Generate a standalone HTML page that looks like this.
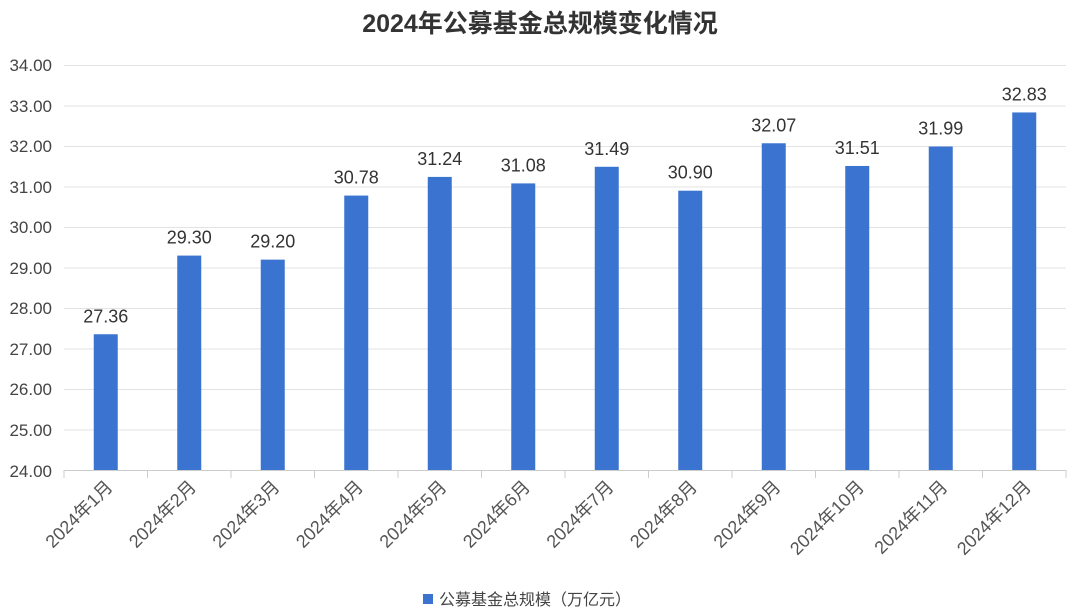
<!DOCTYPE html>
<html><head><meta charset="utf-8"><style>
body{margin:0;background:#fff;}
svg{display:block;font-family:"Liberation Sans","Noto Sans CJK SC",sans-serif;}
</style></head><body>
<svg width="1080" height="615" viewBox="0 0 1080 615">
<text x="540" y="32" text-anchor="middle" font-size="25" font-weight="bold" fill="#333">2024年公募基金总规模变化情况</text>
<g stroke="#e3e3e3" stroke-width="1">
<line x1="64" x2="1066" y1="65.5" y2="65.5"/><line x1="64" x2="1066" y1="106" y2="106"/>
<line x1="64" x2="1066" y1="146.5" y2="146.5"/><line x1="64" x2="1066" y1="187" y2="187"/>
<line x1="64" x2="1066" y1="227.5" y2="227.5"/><line x1="64" x2="1066" y1="268" y2="268"/>
<line x1="64" x2="1066" y1="308.5" y2="308.5"/><line x1="64" x2="1066" y1="349" y2="349"/>
<line x1="64" x2="1066" y1="389.5" y2="389.5"/><line x1="64" x2="1066" y1="430" y2="430"/>
</g>
<g font-size="17" fill="#444" text-anchor="end">
<text x="52" y="71">34.00</text><text x="52" y="112">33.00</text><text x="52" y="152">32.00</text>
<text x="52" y="193">31.00</text><text x="52" y="233">30.00</text><text x="52" y="274">29.00</text>
<text x="52" y="314">28.00</text><text x="52" y="355">27.00</text><text x="52" y="395">26.00</text>
<text x="52" y="436">25.00</text><text x="52" y="477">24.00</text>
</g>
<g id="bars" fill="#3a74d0"></g>
<g id="vals" font-size="18" fill="#333" text-anchor="middle"></g>
<line x1="64" x2="1066" y1="470.5" y2="470.5" stroke="#ccc"/>
<g id="ticks" stroke="#ccc"></g>
<g id="labs" font-size="18" fill="#555" text-anchor="end"></g>
<rect x="423" y="594" width="10" height="10" fill="#3a74d0"/>
<text x="439" y="605" font-size="16" fill="#444">公募基金总规模（万亿元）</text>
<script>
var v=[27.36,29.30,29.20,30.78,31.24,31.08,31.49,30.90,32.07,31.51,31.99,32.83];
var ns="http://www.w3.org/2000/svg",s=83.5,y0=470.5,k=40.55;
function el(t,a,p,txt){var e=document.createElementNS(ns,t);for(var i in a)e.setAttribute(i,a[i]);if(txt)e.textContent=txt;document.getElementById(p).appendChild(e);}
for(var i=0;i<12;i++){var c=64+s*(i+0.5),y=y0-(v[i]-24)*k;
el("rect",{x:c-12,y:y,width:24,height:y0-y},"bars");
el("text",{x:c,y:y-12},"vals",v[i].toFixed(2));
el("line",{x1:64+s*i,x2:64+s*i,y1:470,y2:478},"ticks");
el("text",{x:c+8,y:488,transform:"rotate(-45 "+(c+8)+" 488)"},"labs","2024年"+(i+1)+"月");}
el("line",{x1:1066,x2:1066,y1:470,y2:478},"ticks");
</script>
</svg>
</body></html>
